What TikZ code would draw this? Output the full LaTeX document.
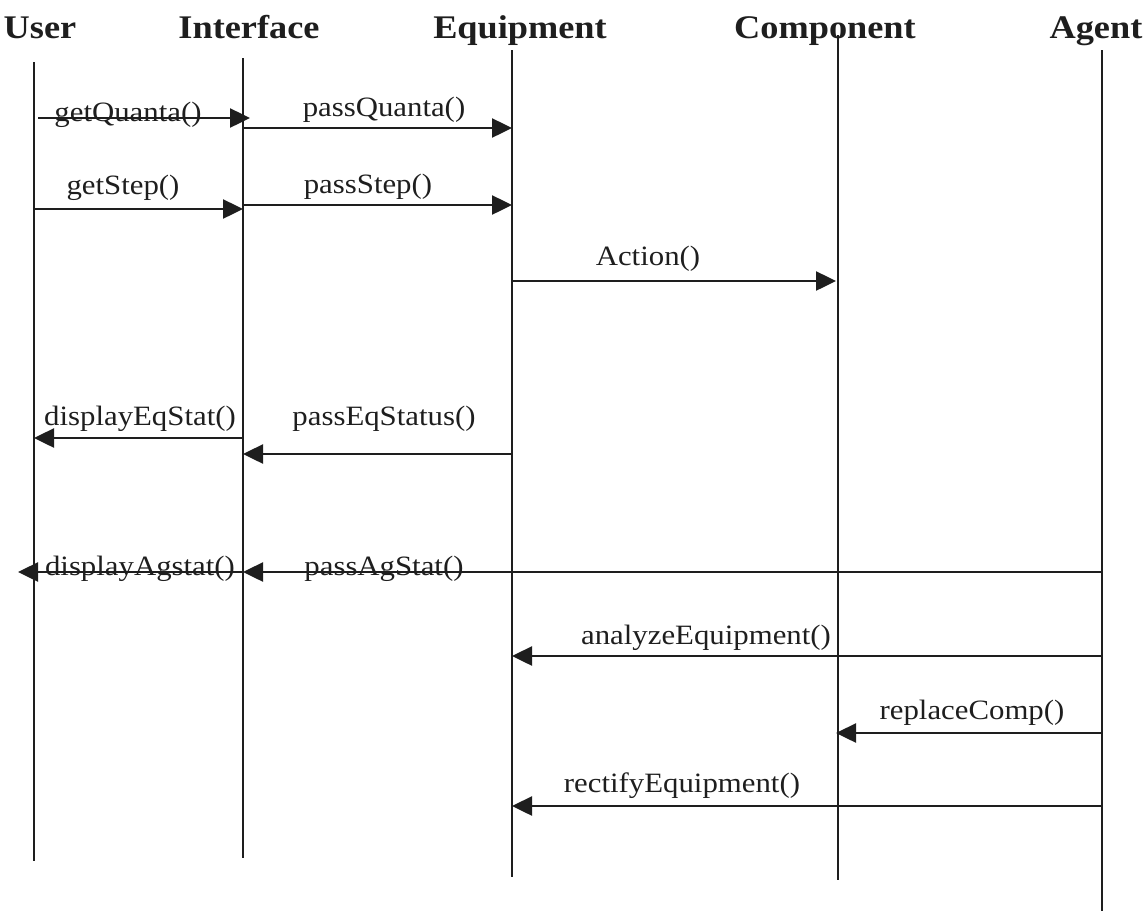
\documentclass[tikz,border=0pt]{standalone}
\usepackage{fontspec}
\setmainfont{Liberation Serif}[FakeStretch=1.1]
\usetikzlibrary{arrows.meta}
\definecolor{ink}{HTML}{1E1E1E}
\begin{document}
\begin{tikzpicture}[x=1pt,y=-1pt,
  lifeline/.style={draw=ink,line width=2pt},
  msg/.style={draw=ink,line width=2.5pt,-{Triangle[length=20pt,width=19pt]}},
  head/.style={font=\fontsize{33}{38}\selectfont\bfseries,text=ink,inner sep=0pt,anchor=base},
  lbl/.style={font=\fontsize{28}{33}\selectfont,text=ink,inner sep=0pt,anchor=base}]
\useasboundingbox (0,0) rectangle (1146,911);
% headers
\node[head] (hU) at (40,38) {User};
\node[head] (hI) at (249,38) {Interface};
\node[head] (hE) at (520,38) {Equipment};
\node[head] (hC) at (825,38) {Component};
\node[head] (hA) at (1096,38) {Agent};
% lifelines
\coordinate (Ut) at (34,62);   \coordinate (Ub) at (34,861);
\coordinate (It) at (243,58);  \coordinate (Ib) at (243,858);
\coordinate (Et) at (512,50);  \coordinate (Eb) at (512,877);
\coordinate (Ct) at (838,35);  \coordinate (Cb) at (838,880);
\coordinate (At) at (1102,50); \coordinate (Ab) at (1102,911);
\draw[lifeline] (Ut) -- (Ub);
\draw[lifeline] (It) -- (Ib);
\draw[lifeline] (Et) -- (Eb);
\draw[lifeline] (Ct) -- (Cb);
\draw[lifeline] (At) -- (Ab);
% message end points
\coordinate (m1s) at (38,118);   \coordinate (m1e) at (250,118);
\coordinate (m2s) at (243,128);  \coordinate (m2e) at (512,128);
\coordinate (m3s) at (34,209);   \coordinate (m3e) at (243,209);
\coordinate (m4s) at (243,205);  \coordinate (m4e) at (512,205);
\coordinate (m5s) at (512,281);  \coordinate (m5e) at (836,281);
\coordinate (m6s) at (243,438);  \coordinate (m6e) at (34,438);
\coordinate (m7s) at (512,454);  \coordinate (m7e) at (243,454);
\coordinate (m8s) at (243,572);  \coordinate (m8e) at (18,572);
\coordinate (m9s) at (1102,572); \coordinate (m9e) at (243,572);
\coordinate (m10s) at (1102,656); \coordinate (m10e) at (512,656);
\coordinate (m11s) at (1102,733); \coordinate (m11e) at (836,733);
\coordinate (m12s) at (1102,806); \coordinate (m12e) at (512,806);
% labels
\node[lbl] (l1) at (128,121) {getQuanta()};
\node[lbl] (l2) at (384,116) {passQuanta()};
\node[lbl] (l3) at (123,194) {getStep()};
\node[lbl] (l4) at (368,193) {passStep()};
\node[lbl] (l5) at (648,265) {Action()};
\node[lbl] (l6) at (140,425) {displayEqStat()};
\node[lbl] (l7) at (384,425) {passEqStatus()};
\node[lbl] (l8) at (140,575) {displayAgstat()};
\node[lbl] (l9) at (384,575) {passAgStat()};
\node[lbl] (l10) at (706,644) {analyzeEquipment()};
\node[lbl] (l11) at (972,719) {replaceComp()};
\node[lbl] (l12) at (682,792) {rectifyEquipment()};
% messages
\draw[msg] (m1s) -- (m1e);
\draw[msg] (m2s) -- (m2e);
\draw[msg] (m3s) -- (m3e);
\draw[msg] (m4s) -- (m4e);
\draw[msg] (m5s) -- (m5e);
\draw[msg] (m6s) -- (m6e);
\draw[msg] (m7s) -- (m7e);
\draw[msg] (m8s) -- (m8e);
\draw[msg] (m9s) -- (m9e);
\draw[msg] (m10s) -- (m10e);
\draw[msg] (m11s) -- (m11e);
\draw[msg] (m12s) -- (m12e);
\end{tikzpicture}
\end{document}
